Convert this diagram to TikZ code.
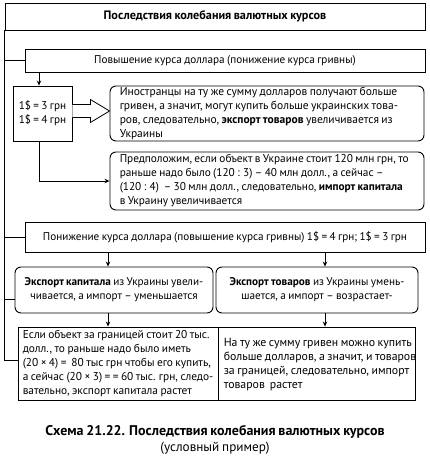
\documentclass[tikz,border=0pt]{standalone}
\usepackage{fontspec}
\setmainfont{PT Sans}[WordSpace=0.8]
\usetikzlibrary{arrows.meta,calc}
\begin{document}
\begin{tikzpicture}[x=1pt,y=-1pt,
  box/.style={draw, line width=0.9pt, inner sep=0pt, align=center, font=\fontsize{11.2}{14}\selectfont},
  rbox/.style={box, rounded corners=6pt},
  txt/.style={inner sep=0pt, align=left, anchor=west, font=\fontsize{11.5}{14}\selectfont},
  btxt/.style={txt, font=\fontsize{11.4}{13.8}\selectfont},
  conn/.style={line width=0.8pt},
  arr/.style={conn, -{Stealth[length=5pt,width=4.5pt]}}]
\useasboundingbox (0,0) rectangle (430,460);
\node[box, minimum width=420, minimum height=27, font=\fontsize{12.2}{14}\selectfont\bfseries] (title) at (215,16.5) {Последствия колебания валютных курсов};
\node[box, minimum width=400, minimum height=23] (pov) at (225,60.5) {Повышение курса доллара (понижение курса гривны)};
\node[box, minimum width=59, minimum height=55] (rate) at (42.5,113.5) {1\$ = 3 грн\\1\$ = 4 грн};
\node[rbox, minimum width=314, minimum height=55] (exp) at (267,113.5) {};
\node[txt] (expt) at ($(exp.west)+(10,0)$) {Иностранцы на ту же сумму долларов получают больше\\гривен, а значит, могут купить больше украинских това-\\ров, следовательно, \textbf{экспорт товаров} увеличивается из\\Украины};
\node[rbox, minimum width=314, minimum height=58] (imp) at (267,181) {};
\node[txt, font=\fontsize{11.3}{14}\selectfont] (impt) at ($(imp.west)+(10,0)$) {Предположим, если объект в Украине стоит 120 млн грн, то\\раньше надо было (120 : 3) – 40 млн долл., а сейчас –\\(120 : 4) \ – 30 млн долл., следовательно, \textbf{импорт капитала}\\в Украину увеличивается};
\node[box, minimum width=400, minimum height=30] (pon) at (225,237) {Понижение курса доллара (повышение курса гривны) 1\$ = 4 грн; 1\$ = 3 грн};
\node[rbox, minimum width=198, minimum height=46] (kap) at (114,290) {\textbf{Экспорт капитала} из Украины увели-\\чивается, а импорт – уменьшается};
\node[rbox, minimum width=202, minimum height=46] (tov) at (317,290) {\textbf{Экспорт товаров} из Украины умень-\\шается, а импорт – возрастает-};
\node[box, minimum width=200, minimum height=73] (bl) at (118,363.5) {};
\node[btxt] (blt) at ($(bl.west)+(5,0)$) {Если объект за границей стоит 20 тыс.\\долл., то раньше надо было иметь\\(20 × 4) = \ 80 тыс грн чтобы его купить,\\а сейчас (20 × 3) = = 60 тыс. грн, следо-\\вательно, экспорт капитала растет};
\node[box, minimum width=197, minimum height=73] (br) at (316.5,363.5) {};
\node[btxt, font=\fontsize{11.8}{14}\selectfont] (brt) at ($(br.west)+(6,1)$) {На ту же сумму гривен можно купить\\больше долларов, а значит, и товаров\\за границей, следовательно, импорт\\товаров \ растет};
\node[font=\fontsize{14}{16}\selectfont\bfseries] (cap) at (215,432) {Схема 21.22. Последствия колебания валютных курсов};
\node[font=\fontsize{13.2}{15}\selectfont] (cap2) at (215,448) {(условный пример)};
\coordinate (ax1) at (108,0);
\coordinate (ax2) at (325,0);
\draw[conn] (title.south west) |- ([yshift=3.5pt]bl.west);
\draw[conn] (title.south west |- pov.west) -- (pov.west);
\draw[conn] (title.south west |- pon.west) -- (pon.west);
\draw[conn] (title.south west |- 0,299) -- ([yshift=-9pt]kap.west);
\draw[arr] ([xshift=-3.5pt]rate.north |- pov.south) -- ([xshift=-3.5pt]rate.north);
\draw[arr] ([xshift=-3.5pt]rate.south) |- (imp.west);
\draw[conn, fill=white] ($(rate.east)+(0,-9)$) -- ($(rate.east)+(18,-9)$) -- ($(rate.east)+(18,-14)$) -- ($(exp.west)+(0,-2.5)$) -- ($(rate.east)+(18,9)$) -- ($(rate.east)+(18,4)$) -- ($(rate.east)+(0,4)$);
\draw[arr] (pon.south -| ax1) -- (kap.north -| ax1);
\draw[arr] (pon.south -| ax2) -- (tov.north -| ax2);
\draw[arr] (kap.south -| ax1) -- (bl.north -| ax1);
\draw[arr] (tov.south -| ax2) -- (br.north -| ax2);
\end{tikzpicture}
\end{document}
